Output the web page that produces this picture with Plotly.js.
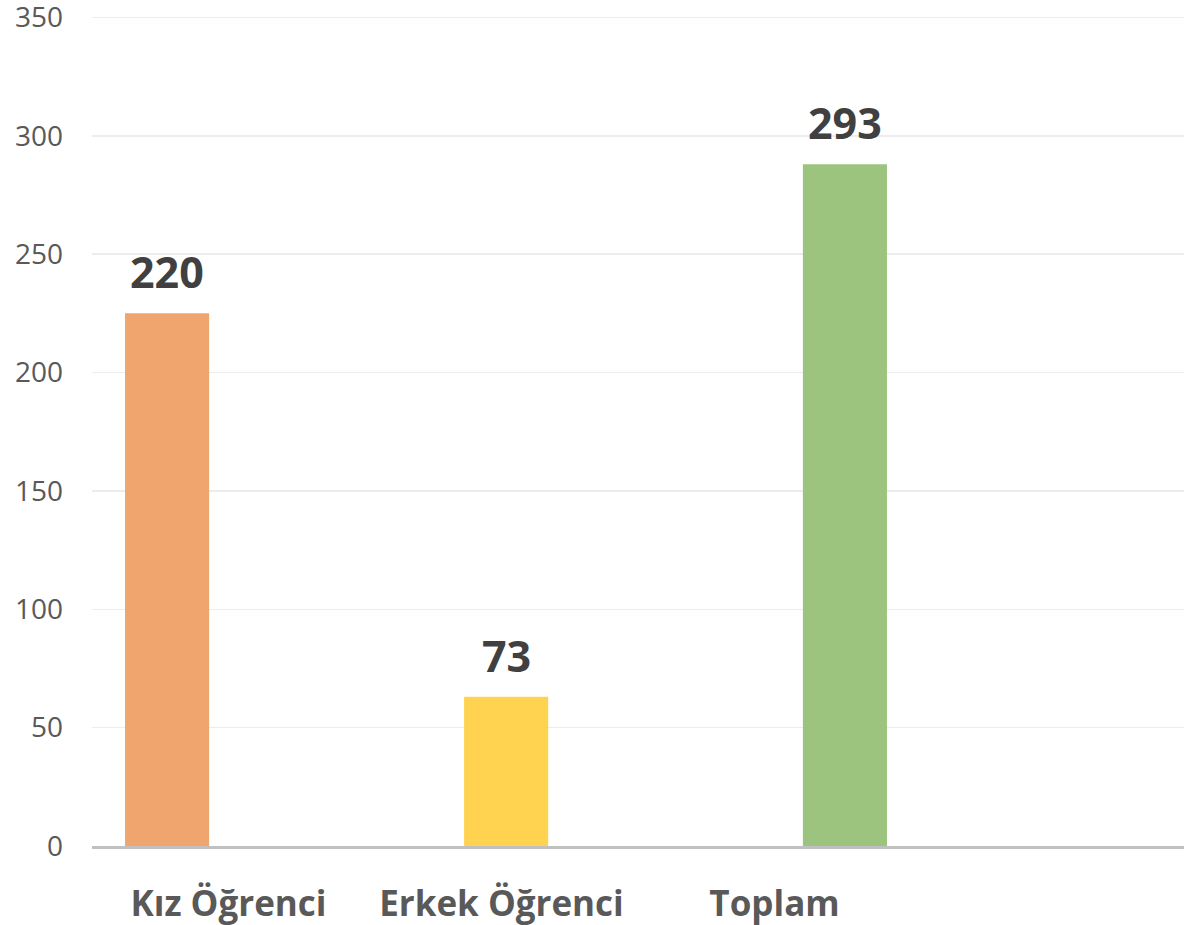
<!DOCTYPE html>
<html>
<head>
<meta charset="utf-8">
<script src="https://cdn.plot.ly/plotly-3.0.1.min.js"></script>
<style>html,body{margin:0;padding:0;background:#fff;}#chart{width:1184px;height:925px;}</style>
</head>
<body>
<div id="chart"></div>
<script>
// Data
const categories = ["Kız Öğrenci", "Erkek Öğrenci", "Toplam"];
const barValues = [225, 63, 288];          // bar heights as drawn
const valueLabels = ["220", "73", "293"];  // data labels as printed
const yTickVals = [0, 50, 100, 150, 200, 250, 300, 350];

// Styling (kept separate from the data)
const colors = ["#f1a56e", "#ffd34f", "#9cc47e"];
const barWidth = 0.308;
const barOffsets = [-0.379, -0.137, 0.104];
const pxPerUnit = 1092 / 4;

const traces = categories.map((c, i) => ({
  type: "bar",
  x: [c],
  y: [barValues[i]],
  width: [barWidth],
  offset: [barOffsets[i]],
  marker: {color: colors[i]},
  hoverinfo: "skip",
  showlegend: false
}));

const annotations = categories.map((c, i) => ({
  x: c, y: barValues[i], xref: "x", yref: "y",
  text: valueLabels[i],
  showarrow: false,
  xanchor: "center", yanchor: "bottom",
  xshift: (barOffsets[i] + barWidth / 2) * pxPerUnit,
  yshift: 10,
  font: {family: "Open Sans", size: 43, color: "#404040", weight: "bold"}
}));

const layout = {
  width: 1184, height: 925,
  margin: {l: 92, r: 0, t: 16, b: 79},
  paper_bgcolor: "#ffffff", plot_bgcolor: "#ffffff",
  barmode: "overlay",
  xaxis: {
    type: "category",
    categoryorder: "array", categoryarray: categories,
    range: [-0.5, 3.5],
    showgrid: false, zeroline: false,
    showline: true, linecolor: "#c0c0c0", linewidth: 2.5,
    ticks: "", ticklabelstandoff: 25, ticklabeloverflow: "allow",
    tickfont: {family: "Open Sans", size: 35, color: "#595959", weight: "bold"}
  },
  yaxis: {
    range: [0, 350.6],
    tickvals: yTickVals,
    showgrid: true, gridcolor: "#ececec", gridwidth: 1.5,
    zeroline: false, showline: false,
    ticks: "", ticklabelstandoff: 28, ticklabeloverflow: "allow",
    tickfont: {family: "Open Sans", size: 28, color: "#595959"}
  },
  annotations: annotations
};

Plotly.newPlot("chart", traces, layout, {displayModeBar: false, staticPlot: true});
</script>
</body>
</html>
